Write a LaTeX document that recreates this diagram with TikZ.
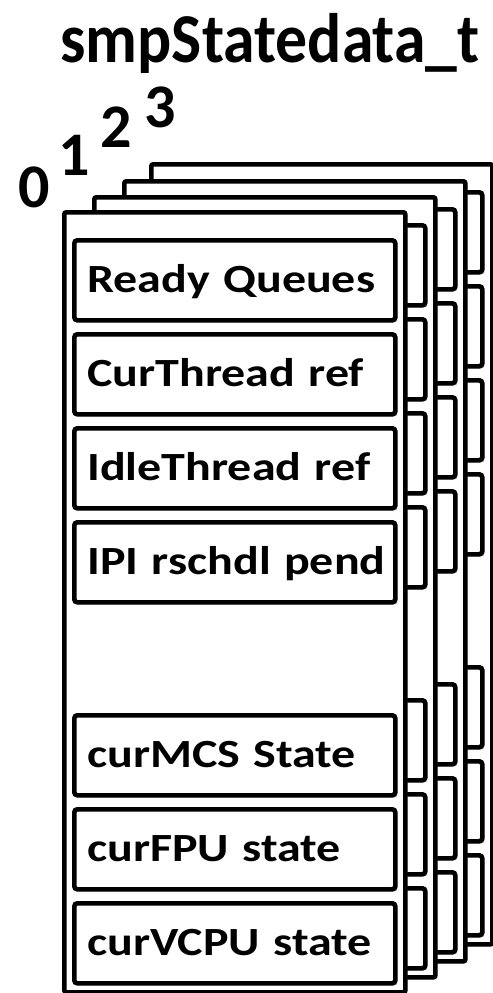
\documentclass[tikz,border=0pt]{standalone}
\usepackage{fontspec}
\setmainfont{Carlito}
\newfontfamily\fieldfont[FakeStretch=1.2]{Carlito}
\newfontfamily\titlefont[FakeStretch=0.91]{Carlito}
\usetikzlibrary{shadows}

\begin{document}
\begin{tikzpicture}[x=0.5pt, y=-0.5pt, line width=2.3pt,
  page/.style = {draw, fill=white, rounded corners=1pt, inner sep=0pt,
    minimum width=170.5pt, minimum height=390pt, anchor=north west,
    drop shadow={opacity=0.25, shadow xshift=1.2pt, shadow yshift=-1.2pt}},
  field/.style = {draw, fill=white, rounded corners=1.5pt, anchor=north west,
    minimum width=160.5pt, minimum height=40pt, inner xsep=6.5pt,
    text width=147.5pt, align=left, text height=12.6pt, text depth=0pt,
    font=\fieldfont\bfseries\fontsize{20}{22}\selectfont,
    drop shadow={opacity=0.25, shadow xshift=1.2pt, shadow yshift=-1.2pt}},
  cpunum/.style = {anchor=base, inner sep=0pt,
    font=\bfseries\fontsize{31}{33}\selectfont}]
\useasboundingbox (0,0) rectangle (493,993);

% title
\node[anchor=base, inner sep=0pt, font=\titlefont\bfseries\fontsize{35}{38}\selectfont]
  (title) at (270,62) {smpStatedata\_t};

% cpu numbers
\foreach \n/\lx/\ly in {0/34/207, 1/74/175, 2/116/147, 3/160/127}
  \node[cpunum] (num\n) at (\lx,\ly) {\n};

% rear copies, back to front
\foreach \pg/\px/\py in {3/149/162, 2/122/179, 1/92/195} {
  \node[page] (page\pg) at (\px,\py) {};
  \foreach \fy [count=\f] in {28,122,216,310,503,597,691}
    \node[field] (field\pg-\f) at (\px+10,\py+\fy) {};
}

% front copy (cpu 0)
\node[page] (page0) at (62,210) {};
\foreach \fy/\name/\txt in {
  28/ready/Ready Queues,
  122/curthread/CurThread ref,
  216/idlethread/IdleThread ref,
  310/ipi/IPI rschdl pend,
  503/curmcs/curMCS State,
  597/curfpu/curFPU state,
  691/curvcpu/curVCPU state
}
  \node[field] (\name) at (72,210+\fy) {\mbox{\txt}};
\end{tikzpicture}
\end{document}
